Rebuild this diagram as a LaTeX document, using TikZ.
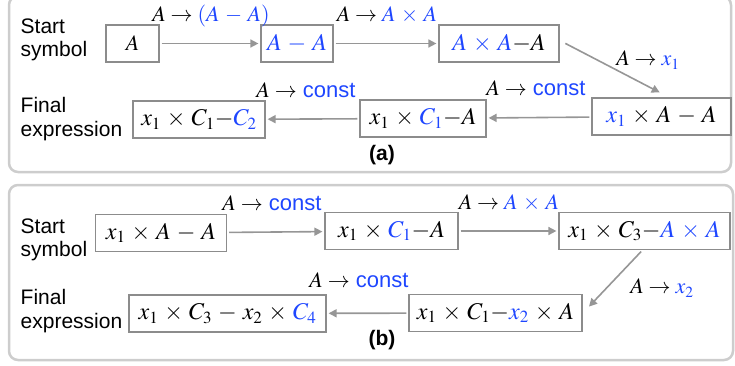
\documentclass[tikz,border=0pt]{standalone}
\usepackage{mathptmx}
\usepackage[no-math]{fontspec}
\setmainfont{Liberation Sans}
\usetikzlibrary{arrows.meta,positioning,calc}
\DeclareMathSizes{23}{24}{17}{12}
\DeclareMathSizes{22}{22}{15.5}{11}
\medmuskip=4.5mu plus 2mu minus 2mu
\definecolor{blu}{RGB}{30,70,255}
\definecolor{boxgray}{RGB}{140,140,140}
\definecolor{arrgray}{RGB}{150,150,150}
\definecolor{panelgray}{RGB}{205,205,205}
\newcommand{\blu}[1]{\textcolor{blu}{#1}}
\tikzset{every picture/.style={line width=0.75pt},
  every node/.style={font=\fontsize{22}{24}\selectfont},
  expr/.style={draw=boxgray,line width=1.2pt,minimum height=37pt,inner sep=1pt,
    font=\fontsize{23}{25}\selectfont},
  rule/.style={inner sep=1pt},
  side/.style={align=left,anchor=west,font=\fontsize{21}{23.5}\selectfont},
  panel/.style={draw=panelgray,line width=2.5pt,rounded corners=9pt},
  flow/.style={->,draw=arrgray,line width=1.6pt,shorten >=2pt,shorten <=2pt},
  >={Triangle[length=8pt,width=8pt]}}

\begin{document}
\begin{tikzpicture}[x=1pt,y=-1pt]
    \useasboundingbox (0,0) rectangle (735,366);
    % panel rectangles
    \draw[panel] (9,-4) rectangle (731,172);
    \draw[panel] (9,185) rectangle (733,360);

    % ---- (a) ----
    \node[side] (startA) at (17,40) {Start\\symbol};
    \node[side] (finalA) at (17,119) {Final\\expression};

    \node[expr,minimum width=53pt,font=\fontsize{22}{24}\selectfont] (a1) at (132.5,43.5) {$A$};
    \node[expr,minimum width=72pt] (a2) at (297,43.5) {$\blu{A - A}$};
    \node[expr,minimum width=120pt] (a3) at (499,43.5) {$\blu{A \times A}{-}A$};
    \node[expr,minimum width=139pt] (a4) at (661.5,116.5) {$\blu{x_1} \times A - A$};
    \node[expr,minimum width=126pt] (a5) at (423,118.5) {$x_1 \times \blu{C_1}{-}A$};
    \node[expr,minimum width=132pt] (a6) at (199,119.5) {$x_1 \times C_1{-}\blu{C_2}$};

    \node[rule] (ra1) at (211,16) {$A \to \blu{(A - A)}$};
    \node[rule] (ra2) at (387,15) {$A \to \blu{A \times A}$};
    \node[rule] (ra3) at (648,60) {$A \to \blu{x_1}$};
    \node[rule] (ra4) at (536,88) {$A \to$ \blu{const}};
    \node[rule] (ra5) at (306,90) {$A \to$ \blu{const}};

    \draw[flow] (a1) -- (a2);
    \draw[flow] (a2) -- (a3);
    \draw[flow] ($(a3.east)+(4,-1)$) -- ($(a4.north)+(0,-4)$);
    \draw[flow] (a4) -- (a5);
    \draw[flow] (a5) -- (a6);

    \node[font=\fontsize{21}{22}\bfseries] (labA) at (382,155) {(a)};

    % ---- (b) ----
    \node[side] (startB) at (17,240) {Start\\symbol};
    \node[side] (finalB) at (17,311) {Final\\expression};

    \node[expr,minimum width=131pt] (b1) at (161,233) {$x_1 \times A - A$};
    \node[expr,minimum width=133pt] (b2) at (391.5,231) {$x_1 \times \blu{C_1}{-}A$};
    \node[expr,minimum width=171pt] (b3) at (644.5,231) {$x_1 \times C_3{-}\blu{A \times A}$};
    \node[expr,minimum width=173pt] (b4) at (495.5,313) {$x_1 \times C_1{-}\blu{x_2} \times A$};
    \node[expr,minimum width=197pt] (b5) at (227.5,313.5) {$x_1 \times C_3 - x_2 \times \blu{C_4}$};

    \node[rule] (rb1) at (272,203) {$A \to$ \blu{const}};
    \node[rule] (rb2) at (509,203) {$A \to \blu{A \times A}$};
    \node[rule] (rb3) at (662,288) {$A \to \blu{x_2}$};
    \node[rule] (rb4) at (359,280) {$A \to$ \blu{const}};

    \draw[flow] (b1) -- (b2);
    \draw[flow] (b2) -- (b3);
    \draw[flow] ($(b3.south)+(-2,0)$) -- ($(b4.east)+(5,-5)$);
    \draw[flow] (b4) -- (b5);

    \node[font=\fontsize{21}{22}\bfseries] (labB) at (382,340) {(b)};
\end{tikzpicture}
\end{document}
